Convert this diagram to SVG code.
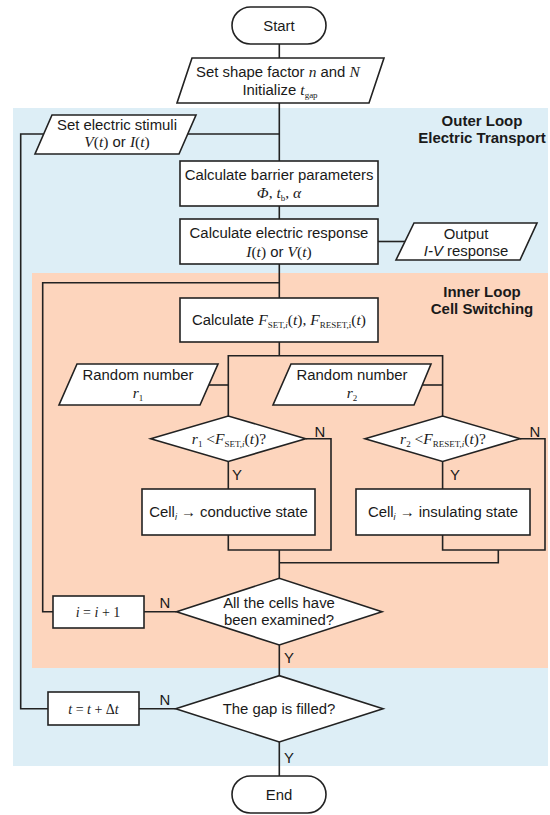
<svg xmlns="http://www.w3.org/2000/svg" width="550" height="815" viewBox="0 0 550 815">
<style>
.t{font-family:"Liberation Sans",Arial,sans-serif;font-size:14.9px;fill:#1a1a1a;text-anchor:middle}
.b{font-weight:bold;font-size:15px}
.it{font-style:italic}
.m{font-family:"Liberation Serif","Times New Roman",serif;font-style:italic;font-size:15.5px}
.r{font-family:"Liberation Serif","Times New Roman",serif;font-style:normal;font-size:15.5px}
.s{font-family:"Liberation Serif","Times New Roman",serif;font-style:normal;font-size:9px}
.sm{font-size:14px}
.sh{fill:#fff;stroke:#222;stroke-width:1.6}
.ln{fill:none;stroke:#222;stroke-width:1.6}
</style>
<rect x="13" y="108" width="535" height="658" fill="#ddeef6"/>
<rect x="32" y="273" width="516" height="395" fill="#fdd5bd"/>
<text class="t b" x="482" y="126">Outer Loop</text>
<text class="t b" x="482" y="143.3">Electric Transport</text>
<text class="t b" x="482" y="297">Inner Loop</text>
<text class="t b" x="482" y="314.3">Cell Switching</text>
<g id="connectors" class="ln">
<path d="M279.3,44 V58"/>
<path d="M279.3,103 V161"/>
<path d="M186.5,134 H279.3"/>
<path d="M279.3,206 V219"/>
<path d="M279.3,264 V298"/>
<path d="M378,241.5 H405"/>
<path d="M279.3,282.7 H42.7 V611.7 H53"/>
<path d="M48,708.7 H20.7 V134 H43.7"/>
<path d="M279.3,342 V355.7"/>
<path d="M228.3,416 V355.7 H442.6 V416"/>
<path d="M208.8,385 H228.3"/>
<path d="M422.3,385 H442.6"/>
<path d="M228.3,461.5 V489"/>
<path d="M442.6,461.5 V489"/>
<path d="M305.7,438.7 H331 V550 H228.3 V535"/>
<path d="M520,438.7 H545 V550 H442.6 V535"/>
<path d="M279.3,550 V578.3"/>
<path d="M279.3,562.7 H498.3 V550"/>
<path d="M144,611.7 H176.5"/>
<path d="M279.3,645 V675.7"/>
<path d="M139,708.7 H175.7"/>
<path d="M279.3,742 V776"/>
</g>
<g id="labels">
<text class="t" x="320" y="436.7">N</text>
<text class="t" x="535" y="436.7">N</text>
<text class="t" x="237" y="480">Y</text>
<text class="t" x="455" y="480">Y</text>
<text class="t" x="165" y="608.3">N</text>
<text class="t" x="289" y="663">Y</text>
<text class="t" x="165" y="705">N</text>
<text class="t" x="289" y="763">Y</text>
</g>
<g id="start">
<rect class="sh" x="232" y="7" width="94" height="37" rx="18.5"/>
<text class="t" x="279" y="30.5">Start</text>
</g>
<g id="init">
<polygon class="sh" points="192,58 384,58 369,103 177,103"/>
<text class="t" x="278" y="77">Set shape factor <tspan class="m">n</tspan> and <tspan class="m">N</tspan></text>
<text class="t" x="280" y="95">Initialize <tspan class="m">t</tspan><tspan class="s" dy="3">gap</tspan></text>
</g>
<g id="stimuli">
<polygon class="sh" points="52,115 196,115 179,154 35,154"/>
<text class="t" x="117" y="130">Set electric stimuli</text>
<text class="t" x="117" y="147"><tspan class="m">V</tspan><tspan class="r">(</tspan><tspan class="m">t</tspan><tspan class="r">)</tspan> or <tspan class="m">I</tspan><tspan class="r">(</tspan><tspan class="m">t</tspan><tspan class="r">)</tspan></text>
</g>
<g id="barrier">
<rect class="sh" x="180" y="161" width="198" height="45"/>
<text class="t" x="279" y="179.5">Calculate barrier parameters</text>
<text class="t" x="279" y="197.5"><tspan class="m">Φ</tspan><tspan class="r">, </tspan><tspan class="m">t</tspan><tspan class="s" dy="3">b</tspan><tspan class="r" dy="-3">, </tspan><tspan class="m">α</tspan></text>
</g>
<g id="response">
<rect class="sh" x="180" y="219" width="198" height="45"/>
<text class="t" x="279" y="237.5">Calculate electric response</text>
<text class="t" x="279" y="256.5"><tspan class="m">I</tspan><tspan class="r">(</tspan><tspan class="m">t</tspan><tspan class="r">)</tspan> or <tspan class="m">V</tspan><tspan class="r">(</tspan><tspan class="m">t</tspan><tspan class="r">)</tspan></text>
</g>
<g id="output">
<polygon class="sh" points="414,223 537,223 520,260 396,260"/>
<text class="t" x="466" y="239">Output</text>
<text class="t" x="466" y="255.5"><tspan class="it">I-V</tspan> response</text>
</g>
<g id="calcF">
<rect class="sh" x="180" y="298" width="198" height="44"/>
<text class="t" x="279" y="325">Calculate <tspan class="m">F</tspan><tspan class="s" dy="3">SET,<tspan font-style="italic">i</tspan></tspan><tspan class="r" dy="-3">(</tspan><tspan class="m">t</tspan><tspan class="r">), </tspan><tspan class="m">F</tspan><tspan class="s" dy="3" font-style="italic">RESET,i</tspan><tspan class="r" dy="-3">(</tspan><tspan class="m">t</tspan><tspan class="r">)</tspan></text>
</g>
<g id="rand1">
<polygon class="sh" points="77,364 218,364 200,405 59,405"/>
<text class="t" x="138" y="380">Random number</text>
<text class="t" x="138" y="398"><tspan class="m">r</tspan><tspan class="s" dy="3">1</tspan></text>
</g>
<g id="rand2">
<polygon class="sh" points="291,364 431,364 414,405 273,405"/>
<text class="t" x="352" y="380">Random number</text>
<text class="t" x="352" y="398"><tspan class="m">r</tspan><tspan class="s" dy="3">2</tspan></text>
</g>
<g id="cond1">
<polygon class="sh" points="150.7,438.7 228.3,416 305.7,438.7 228.3,461.5"/>
<text class="t" x="229" y="444"><tspan class="m">r</tspan><tspan class="s" dy="3">1</tspan><tspan class="r" dy="-3"> &lt;</tspan><tspan class="m">F</tspan><tspan class="s" dy="3">SET,<tspan font-style="italic">i</tspan></tspan><tspan class="r" dy="-3">(</tspan><tspan class="m">t</tspan><tspan class="r">)?</tspan></text>
</g>
<g id="cond2">
<polygon class="sh" points="365,438.7 442.6,416 520,438.7 442.6,461.5"/>
<text class="t" x="443" y="444"><tspan class="m">r</tspan><tspan class="s" dy="3">2</tspan><tspan class="r" dy="-3"> &lt;</tspan><tspan class="m">F</tspan><tspan class="s" dy="3">RESET,<tspan font-style="italic">i</tspan></tspan><tspan class="r" dy="-3">(</tspan><tspan class="m">t</tspan><tspan class="r">)?</tspan></text>
</g>
<g id="cell1">
<rect class="sh" x="142" y="489" width="173" height="46"/>
<text class="t" x="228.5" y="517">Cell<tspan font-size="9" font-style="italic" dy="3">i</tspan><tspan dy="-3"> → conductive state</tspan></text>
</g>
<g id="cell2">
<rect class="sh" x="356" y="489" width="174" height="46"/>
<text class="t" x="443" y="517">Cell<tspan font-size="9" font-style="italic" dy="3">i</tspan><tspan dy="-3"> → insulating state</tspan></text>
</g>
<g id="allcells">
<polygon class="sh" points="176.5,611.7 279.3,578.3 382,611.7 279.3,645"/>
<text class="t" x="279" y="608.3">All the cells have</text>
<text class="t" x="279" y="625">been examined?</text>
</g>
<g id="inc">
<rect class="sh" x="53" y="596" width="91" height="32"/>
<text class="t" x="98" y="616.5"><tspan class="m sm">i</tspan><tspan class="r sm"> = </tspan><tspan class="m sm">i</tspan><tspan class="r sm"> + 1</tspan></text>
</g>
<g id="gap">
<polygon class="sh" points="175.7,708.7 279.3,675.7 383,708.7 279.3,742"/>
<text class="t" x="279" y="714">The gap is filled?</text>
</g>
<g id="tstep">
<rect class="sh" x="48" y="692" width="91" height="33"/>
<text class="t" x="93.5" y="713.5"><tspan class="m sm">t</tspan><tspan class="r sm"> = </tspan><tspan class="m sm">t</tspan><tspan class="r sm"> + Δ</tspan><tspan class="m sm">t</tspan></text>
</g>
<g id="end">
<rect class="sh" x="232" y="776" width="94" height="37" rx="18.5"/>
<text class="t" x="279" y="799.5">End</text>
</g>
</svg>
